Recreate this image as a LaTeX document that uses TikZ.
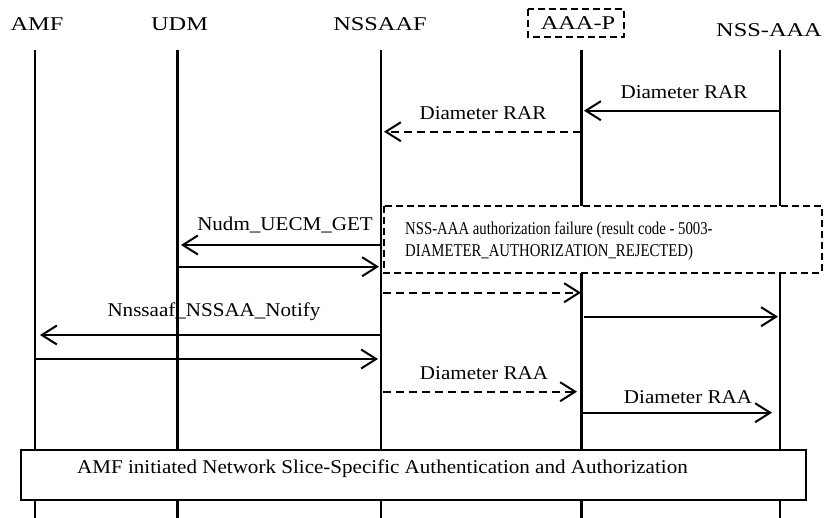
\documentclass[tikz,border=0pt]{standalone}
\usepackage{fontspec}
\setmainfont{Liberation Serif}[FakeStretch=1.08]
\newfontfamily\notefont{Liberation Serif}[FakeStretch=0.82]
\newfontfamily\headfont{Liberation Serif}[FakeStretch=1.25]
\usetikzlibrary{arrows.meta}
\begin{document}
\begin{tikzpicture}[x=1pt,y=-1pt,
  every node/.style={font=\fontsize{19.5}{23}\selectfont, inner sep=0pt},
  lifeline/.style={line width=2.8pt},
  msg/.style={line width=2pt, -{Straight Barb[length=15pt,width=19pt]}},
  dmsg/.style={msg, dash pattern=on 8pt off 5pt},
  lbl/.style={anchor=base},
  head/.style={anchor=base, font=\headfont\fontsize{19.5}{23}\selectfont},
  notetxt/.style={anchor=base west, font=\notefont\fontsize{18}{21}\selectfont},
  frame/.style={line width=2.5pt, fill=white},
  note/.style={line width=1.8pt, dash pattern=on 7pt off 4pt}]
\useasboundingbox (0,0) rectangle (827,518);
% heads
\draw[note] (528,9) rectangle (624,37);
\node[head] (hAMF) at (37,31) {AMF};
\node[head] (hUDM) at (179.5,31) {UDM};
\node[head] (hNSSAAF) at (380,31) {NSSAAF};
\node[head] (hAAAP) at (578,29.5) {AAA-P};
\node[head] (hNSS) at (769,36.5) {NSS-AAA};
% lifelines
\coordinate (tA) at (35,50);   \coordinate (bA) at (35,518);
\coordinate (tU) at (177.5,50); \coordinate (bU) at (177.5,518);
\coordinate (tN) at (381,50);  \coordinate (bN) at (381,518);
\coordinate (tP) at (581.5,50); \coordinate (bP) at (581.5,518);
\coordinate (tS) at (780,50);  \coordinate (bS) at (780,518);
\draw[lifeline] (tA) -- (bA);
\draw[lifeline] (tU) -- (bU);
\draw[lifeline] (tN) -- (bN);
\draw[lifeline] (tP) -- (bP);
\draw[lifeline] (tS) -- (bS);
% dashed note box
\draw[note, fill=white] (384,206) rectangle (822,272.7);
\node[notetxt] (noteA) at (405,235) {NSS-AAA authorization failure (result code - 5003-};
\node[notetxt] (noteB) at (405,256.5) {DIAMETER\_AUTHORIZATION\_REJECTED)};
% message endpoints
\coordinate (m1s) at (780,110.7);  \coordinate (m1e) at (584,110.7);
\coordinate (m2s) at (581,131.7);  \coordinate (m2e) at (384,131.7);
\coordinate (m3s) at (381,245);    \coordinate (m3e) at (181,245);
\coordinate (m4s) at (178,266.7);  \coordinate (m4e) at (379,266.7);
\coordinate (m5s) at (383,292.7);  \coordinate (m5e) at (581,292.7);
\coordinate (m6s) at (584,316.7);  \coordinate (m6e) at (778,316.7);
\coordinate (m7s) at (381,335);    \coordinate (m7e) at (40,335);
\coordinate (m8s) at (36,359);     \coordinate (m8e) at (378,359);
\coordinate (m9s) at (383,391.7);  \coordinate (m9e) at (577,391.7);
\coordinate (m10s) at (583,412.7); \coordinate (m10e) at (772,412.7);
\draw[msg] (m1s) -- (m1e);
\draw[dmsg] (m2s) -- (m2e);
\draw[msg] (m3s) -- (m3e);
\draw[msg] (m4s) -- (m4e);
\draw[dmsg] (m5s) -- (m5e);
\draw[msg] (m6s) -- (m6e);
\draw[msg] (m7s) -- (m7e);
\draw[msg] (m8s) -- (m8e);
\draw[dmsg] (m9s) -- (m9e);
\draw[msg] (m10s) -- (m10e);
% labels
\node[lbl] (l1) at (684,98.3) {Diameter RAR};
\node[lbl] (l2) at (483,120) {Diameter RAR};
\node[lbl] (l3) at (285,231) {Nudm\_UECM\_GET};
\node[lbl] (l7) at (214,317) {Nnssaaf\_NSSAA\_Notify};
\node[lbl] (l9) at (484,379) {Diameter RAA};
\node[lbl] (l10) at (688,403) {Diameter RAA};
% bottom frame
\draw[frame] (21,450) rectangle (806,500);
\node[anchor=base west] (ftxt) at (77,473) {AMF initiated Network Slice-Specific Authentication and Authorization};
\end{tikzpicture}
\end{document}
